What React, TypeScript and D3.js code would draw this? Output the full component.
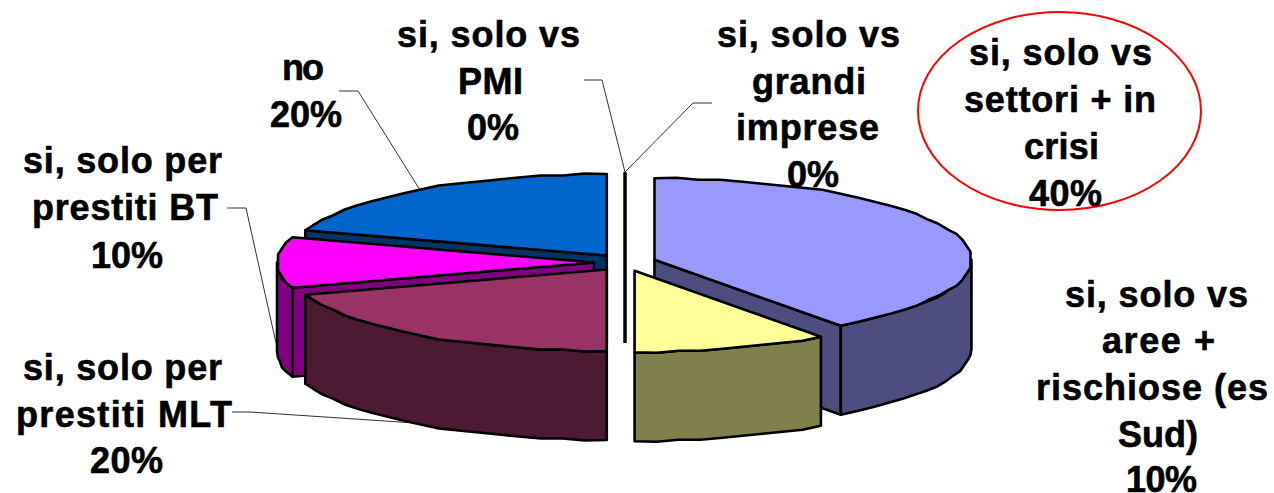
import React from "react";
import * as d3 from "d3";

const WIDTH = 1274;
const HEIGHT = 493;

// Survey shares, clockwise from twelve o'clock
const categories = [
  ["si, solo vs", "settori + in", "crisi"],
  ["si, solo vs", "aree +", "rischiose (es", "Sud)"],
  ["si, solo per", "prestiti MLT"],
  ["si, solo per", "prestiti BT"],
  ["no"],
  ["si, solo vs", "PMI"],
  ["si, solo vs", "grandi", "imprese"],
];
const values = [40, 10, 20, 10, 20, 0, 0];
const topColors = ["#9999ff", "#ffff99", "#993366", "#ff00ff", "#0066cc", "#000000", "#000000"];
const wallColors = ["#4d4d80", "#80804d", "#4d1a33", "#800080", "#003366", "#000000", "#000000"];

// Left edge, right edge and baseline of every label line, percentage last
const labelBoxes: number[][][] = [
  [[969, 1152, 65], [964, 1156, 112], [1024, 1099, 159], [1029, 1102, 206]],
  [[1065, 1248, 307], [1102, 1215, 353], [1036, 1268, 400], [1118, 1198, 447], [1126, 1197, 492]],
  [[23, 222, 380], [16, 232, 427], [90, 163, 473]],
  [[23, 222, 173], [32, 218, 220], [91, 163, 268]],
  [[282, 324, 80], [270, 342, 127]],
  [[397, 580, 47], [458, 523, 94], [467, 519, 140]],
  [[717, 900, 47], [752, 866, 94], [736, 879, 140], [787, 839, 187]],
];

// Leader lines running from the labels to the slices
const leaders: [number, number][][] = [
  [[339, 91], [358, 91], [420, 190]],
  [[227, 208], [246, 208], [276, 343]],
  [[232, 412], [250, 412], [415, 423]],
  [[584, 80], [602, 80], [625, 172]],
  [[712, 103], [693, 103], [625, 172]],
];

const CX = 625;
const CY = 262.5;
const RX = 317;
const RY = 81.5;
const DEPTH = 89;
const EXPLODE = 31;
const TILT = 0.28;
const GRID = 2;
const TAU = Math.PI * 2;

const xUnit = d3.scaleLinear().domain([-1, 1]).range([-RX, RX]);
const yUnit = d3.scaleLinear().domain([-1, 1]).range([RY, -RY]);
const toPath = d3.line<[number, number]>();
const snap = (v: number) => Math.round(v / GRID) * GRID;

type Pt = [number, number];

// Rim points of a slice between two angles; inner points sit on a coarse grid
function rim(vx: number, vy: number, a0: number, a1: number): Pt[] {
  const n = Math.max(1, Math.ceil((a1 - a0) / (Math.PI / 45)));
  const pts: Pt[] = [];
  for (let i = 0; i <= n; i++) {
    const a = a0 + ((a1 - a0) * i) / n;
    const px = xUnit(Math.sin(a));
    const py = yUnit(Math.cos(a));
    const inner = i > 0 && i < n;
    pts.push([vx + (inner ? snap(px) : px), vy + (inner ? snap(py) : py)]);
  }
  return pts;
}

const shift = (pts: Pt[]): Pt[] => pts.map(([x, y]) => [x, y + DEPTH] as Pt);

const arcs = d3
  .pie<number>()
  .sort(null)
  .startAngle(0)
  .endAngle(TAU)(values)
  .map((arc, i) => {
    const mid = (arc.startAngle + arc.endAngle) / 2;
    return {
      i,
      a0: arc.startAngle,
      a1: arc.endAngle,
      vx: CX + EXPLODE * Math.sin(mid),
      vy: CY - EXPLODE * TILT * Math.cos(mid),
    };
  });

// Painted from the back of the pie to the front
const paintOrder = [5, 6, 4, 3, 2, 0, 1];

const Slice = ({ s }: { s: (typeof arcs)[number] }) => {
  const { i, a0, a1, vx, vy } = s;
  const stroke = { stroke: "#000", strokeWidth: 2.6, strokeLinejoin: "round" as const };
  if (a1 - a0 < 1e-6) {
    const tip = rim(vx, vy, a0, a0)[0];
    return (
      <path
        d={toPath([[vx, tip[1]], [vx, vy + DEPTH]]) ?? ""}
        fill="none"
        stroke="#000"
        strokeWidth={3}
      />
    );
  }
  const top = rim(vx, vy, a0, a1);
  const apex: Pt = [vx, vy];
  const walls: Pt[][] = [];
  // Radial faces that turn towards the viewer
  if (Math.sin(a0) < -1e-6) {
    const edge: Pt[] = [top[0], apex];
    walls.push([...edge, ...shift(edge).reverse()]);
  }
  if (Math.sin(a1) > 1e-6) {
    const edge: Pt[] = [top[top.length - 1], apex];
    walls.push([...edge, ...shift(edge).reverse()]);
  }
  // Outer face, only the part on the near half of the rim
  const f0 = Math.max(a0, Math.PI / 2);
  const f1 = Math.min(a1, (3 * Math.PI) / 2);
  if (f1 > f0) {
    const curve = rim(vx, vy, f0, f1);
    walls.push([...curve, ...shift(curve).reverse()]);
  }
  return (
    <g>
      {walls.map((w, k) => (
        <path key={k} d={(toPath(w) ?? "") + "Z"} fill={wallColors[i]} {...stroke} />
      ))}
      <path d={(toPath([apex, ...top]) ?? "") + "Z"} fill={topColors[i]} {...stroke} />
    </g>
  );
};

export default function App() {
  return (
    <svg
      width={WIDTH}
      height={HEIGHT}
      viewBox={`0 0 ${WIDTH} ${HEIGHT}`}
      style={{ position: "absolute", left: 0, top: 0, background: "#fff" }}
    >
      {leaders.map((l, i) => (
        <path key={i} d={toPath(l) ?? ""} fill="none" stroke="#333" strokeWidth={1} />
      ))}
      {paintOrder.map((i) => (
        <Slice key={i} s={arcs[i]} />
      ))}
      <ellipse cx={1059.5} cy={111} rx={141.5} ry={99} fill="none" stroke="#ff0000" strokeWidth={2} />
      {categories.map((lines, i) =>
        [...lines, `${values[i]}%`].map((text, j) => {
          const [x0, x1, y] = labelBoxes[i][j];
          return (
            <text
              key={`${i}-${j}`}
              x={x0}
              y={y}
              textLength={x1 - x0}
              lengthAdjust="spacing"
              fontFamily="'Liberation Sans', Arial, sans-serif"
              fontWeight={700}
              fontSize={36}
              fill="#000"
              stroke="#000"
              strokeWidth={0.6}
            >
              {text}
            </text>
          );
        })
      )}
    </svg>
  );
}
